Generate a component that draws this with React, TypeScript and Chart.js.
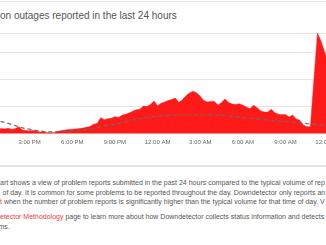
import React, { useEffect, useRef } from "react";
import { Chart, registerables } from "chart.js";

Chart.register(...registerables);

const TIMES: string[] = [
  "12:00 PM", "12:15 PM", "12:30 PM", "12:45 PM",
  "1:00 PM", "1:15 PM", "1:30 PM", "1:45 PM",
  "2:00 PM", "2:15 PM", "2:30 PM", "2:45 PM",
  "3:00 PM", "3:15 PM", "3:30 PM", "3:45 PM",
  "4:00 PM", "4:15 PM", "4:30 PM", "4:45 PM",
  "5:00 PM", "5:15 PM", "5:30 PM", "5:45 PM",
  "6:00 PM", "6:15 PM", "6:30 PM", "6:45 PM",
  "7:00 PM", "7:15 PM", "7:30 PM", "7:45 PM",
  "8:00 PM", "8:15 PM", "8:30 PM", "8:45 PM",
  "9:00 PM", "9:15 PM", "9:30 PM", "9:45 PM",
  "10:00 PM", "10:15 PM", "10:30 PM", "10:45 PM",
  "11:00 PM", "11:15 PM", "11:30 PM", "11:45 PM",
  "12:00 AM", "12:15 AM", "12:30 AM", "12:45 AM",
  "1:00 AM", "1:15 AM", "1:30 AM", "1:45 AM",
  "2:00 AM", "2:15 AM", "2:30 AM", "2:45 AM",
  "3:00 AM", "3:15 AM", "3:30 AM", "3:45 AM",
  "4:00 AM", "4:15 AM", "4:30 AM", "4:45 AM",
  "5:00 AM", "5:15 AM", "5:30 AM", "5:45 AM",
  "6:00 AM", "6:15 AM", "6:30 AM", "6:45 AM",
  "7:00 AM", "7:15 AM", "7:30 AM", "7:45 AM",
  "8:00 AM", "8:15 AM", "8:30 AM", "8:45 AM",
  "9:00 AM", "9:15 AM", "9:30 AM", "9:45 AM",
  "10:00 AM", "10:15 AM", "10:30 AM", "10:45 AM",
  "11:00 AM", "11:15 AM", "11:30 AM", "11:45 AM",
  "12:00 PM",
];

const TICK_LABELS: string[] = [
  "3:00 PM", "6:00 PM", "9:00 PM", "12:00 AM",
  "3:00 AM", "6:00 AM", "9:00 AM", "12:00 PM",
];

const REPORTS: number[] = [
  2.2, 2.5, 2.0, 1.6, 1.9, 1.8, 2.0, 1.6, 1.9, 2.6,
  1.4, 1.2, 1.1, 1.2, 0.9, 0.7, 0.7, 0.5, 0.4, 0.5,
  0.9, 1.2, 1.4, 1.6, 1.7, 1.8, 1.9, 2.1, 2.4, 2.7,
  3.5, 3.8, 5.9, 5.2, 5.5, 5.7, 6.3, 6.0, 6.8, 7.2,
  7.6, 8.3, 8.8, 9.0, 10.2, 10.0, 10.8, 12.0, 10.3, 11.2,
  11.7, 12.2, 12.6, 13.1, 11.5, 12.5, 14.0, 15.0, 15.6, 15.0,
  13.8, 12.2, 11.7, 11.9, 11.9, 10.5, 11.5, 12.8, 11.5, 10.9,
  10.8, 11.0, 10.5, 9.8, 9.2, 10.5, 9.6, 8.4, 8.0, 8.0,
  9.0, 7.7, 7.2, 7.0, 7.1, 6.2, 6.9, 5.4, 5.0, 3.2,
  2.6, 2.6, 20, 37, 34, 30, 26,
];

const BASELINE: number[] = [
  5.8, 5.5, 5.2, 4.8, 4.5, 4.2, 3.8, 3.4, 3.0, 2.6,
  2.2, 1.9, 1.7, 1.4, 1.2, 1.0, 0.85, 0.75, 0.7, 0.7,
  0.75, 0.8, 0.9, 1.0, 1.1, 1.2, 1.4, 1.5, 1.6, 1.7,
  1.9, 2.2, 2.6, 2.9, 3.2, 3.4, 3.6, 3.9, 4.1, 4.4,
  4.8, 5.1, 5.3, 5.6, 5.8, 6.0, 6.2, 6.3, 6.4, 6.6,
  6.7, 6.8, 6.9, 6.9, 7.0, 7.0, 7.0, 7.0, 7.0, 7.0,
  7.0, 7.0, 7.0, 6.95, 6.9, 6.85, 6.8, 6.7, 6.55, 6.4,
  6.3, 6.15, 6.0, 5.9, 5.75, 5.6, 5.5, 5.35, 5.2, 5.1,
  5.0, 4.85, 4.75, 4.65, 4.55, 4.45, 4.3, 4.1, 4.0, 3.9,
  3.75, 3.6, 3.5, 3.4, 3.2, 3.1, 3.0,
];

const Y_MAX = 37;
const Y_STEP = 10;

const FONT = "'Liberation Sans', Arial, Helvetica, sans-serif";

function OutageChart() {
  const ref = useRef<HTMLCanvasElement | null>(null);
  useEffect(() => {
    if (!ref.current) return;
    const chart = new Chart(ref.current, {
      type: "line",
      data: {
        labels: TIMES,
        datasets: [
          {
            label: "Baseline",
            data: BASELINE,
            borderColor: "#6b6b6b",
            borderWidth: 1.2,
            borderDash: [4, 3],
            pointRadius: 0,
            fill: false,
            tension: 0.4,
            cubicInterpolationMode: "monotone",
            order: 0,
          },
          {
            label: "Reports",
            data: REPORTS,
            borderColor: "#ff1a1a",
            backgroundColor: "#ff1a1a",
            borderWidth: 0.5,
            pointRadius: 0,
            fill: "origin",
            tension: 0,
            order: 1,
          },
        ],
      },
      options: {
        animation: false,
        responsive: false,
        devicePixelRatio: 1,
        layout: { padding: 0 },
        plugins: { legend: { display: false }, tooltip: { enabled: false } },
        scales: {
          x: {
            type: "category",
            offset: false,
            grid: { display: false, drawTicks: false },
            border: { display: false },
            ticks: {
              autoSkip: false,
              maxRotation: 0,
              minRotation: 0,
              padding: 5,
              color: "#666",
              font: { family: FONT, size: 6 },
              callback: (_v: any, i: number) => {
                const l = TIMES[i];
                return i > 0 && TICK_LABELS.includes(l) ? l : "";
              },
            },
          },
          y: {
            min: 0,
            max: Y_MAX,
            grid: { color: "#e6e6e6", drawTicks: false, lineWidth: 1 },
            border: { display: false },
            ticks: { display: false, stepSize: Y_STEP },
          },
        },
      },
    });
    return () => chart.destroy();
  }, []);
  return (
    <canvas
      ref={ref}
      width={364}
      height={118}
      style={{ position: "absolute", left: -18, top: 33, display: "block" }}
    />
  );
}

const textLine: React.CSSProperties = {
  position: "absolute",
  left: 0,
  whiteSpace: "nowrap",
  fontFamily: FONT,
  fontSize: "7px",
  lineHeight: "9px",
  color: "#555",
};

export default function App() {
  return (
    <div
      style={{
        position: "fixed",
        left: 0,
        top: 0,
        width: 326,
        height: 245,
        overflow: "hidden",
        background: "#fff",
      }}
    >
      <div style={{ position: "absolute", left: 0, top: 1, width: 326, height: 1, background: "#e8e8e8" }} />
      <div
        style={{
          position: "absolute",
          left: 0,
          top: 10,
          whiteSpace: "nowrap",
          fontFamily: FONT,
          fontSize: "10px",
          lineHeight: "12px",
          color: "#555",
        }}
      >
        on outages reported in the last 24 hours
      </div>
      <OutageChart />
      <div style={{ position: "absolute", left: 0, top: 165, width: 326, height: 2, background: "#e4e4e4" }} />
      <div style={{ ...textLine, top: 178 }}>
        art shows a view of problem reports submitted in the past 24 hours compared to the typical volume of rep
      </div>
      <div style={{ ...textLine, top: 187.5, left: 2.5 }}>
        of day. It is common for some problems to be reported throughout the day. Downdetector only reports an
      </div>
      <div style={{ ...textLine, top: 197 }}>
        <span style={{ color: "#e8403a" }}>t</span> when the number of problem reports is significantly higher than the typical volume for that time of day. V
      </div>
      <div style={{ ...textLine, top: 211.5 }}>
        <span style={{ color: "#e8403a" }}>etector Methodology</span> page to learn more about how Downdetector collects status information and detects
      </div>
      <div style={{ ...textLine, top: 222, left: -1.5 }}>ms.</div>
    </div>
  );
}
